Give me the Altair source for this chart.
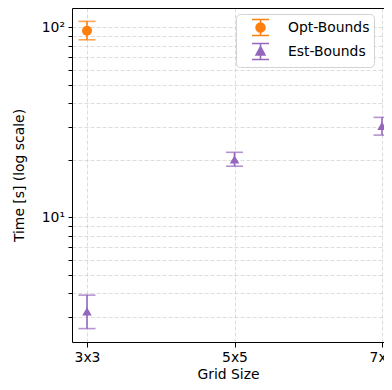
import json
import altair as alt
import pandas as pd

# ---- data ----
grids = ["3x3", "5x5", "7x7"]
methods = ["Opt-Bounds", "Est-Bounds"]
colors = ["#ff7f0e", "#9467bd"]

opt_grid = ["3x3"]
opt_time = [96.0]
opt_lo = [86.0]
opt_hi = [107.5]

est_grid = ["3x3", "5x5", "7x7"]
est_time = [3.2, 20.2, 30.3]
est_lo = [2.6, 18.6, 27.1]
est_hi = [3.9, 22.0, 33.6]

y_ticks = [3, 4, 5, 6, 7, 8, 9, 10, 20, 30, 40, 50, 60, 70, 80, 90, 100]
y_domain = [2.21, 126.4]
x_domain = [-0.1017, 2.0135]

# legend glyphs: marker + error bar (unit square -1..1)
opt_glyph = ("M-1,-0.94L1,-0.94M-1,0.94L1,0.94M0,-0.94L0,0.94"
             "M-0.52,0A0.52,0.52,0,1,0,0.52,0A0.52,0.52,0,1,0,-0.52,0Z")
est_glyph = ("M-1,-0.94L1,-0.94M-1,0.94L1,0.94M0,-0.94L0,0.94"
             "M0,-0.56L0.52,0.42L-0.52,0.42Z")

rows = []
for g, t, lo, hi in zip(opt_grid, opt_time, opt_lo, opt_hi):
    rows.append(dict(grid=g, idx=grids.index(g), method=methods[0], time=t, lo=lo, hi=hi))
for g, t, lo, hi in zip(est_grid, est_time, est_lo, est_hi):
    rows.append(dict(grid=g, idx=grids.index(g), method=methods[1], time=t, lo=lo, hi=hi))
df = pd.DataFrame(rows)

FONT = "DejaVu Sans"
FS = 13.9
GRID = dict(grid=True, gridDash=[4, 2], gridColor="#b0b0b0", gridOpacity=0.55, gridWidth=0.8)

xscale = alt.Scale(domain=x_domain, nice=False, zero=False, padding=0)
yscale = alt.Scale(type="log", domain=y_domain, nice=False, padding=0)

x_label_expr = json.dumps(grids) + "[datum.value]"
x_axis = alt.Axis(values=list(range(len(grids))), labelExpr=x_label_expr, title="Grid Size",
                  labelFont=FONT, labelFontSize=FS, labelColor="black", labelPadding=3.5,
                  titleFont=FONT, titleFontSize=FS, titleFontWeight="normal", titleColor="black",
                  titlePadding=3, tickColor="black", tickSize=5, domainColor="black",
                  labelAngle=0, labelOverlap=False, **GRID)

y_axis = alt.Axis(values=y_ticks,
                  labelExpr="datum.value == 100 ? '10²' : datum.value == 10 ? '10¹' : ''",
                  tickSize=4,
                  title="Time [s] (log scale)",
                  labelFont=FONT, labelFontSize=FS, labelColor="black", labelPadding=3.5,
                  titleFont=FONT, titleFontSize=FS, titleFontWeight="normal", titleColor="black",
                  titlePadding=15, tickColor="black", domainColor="black", labelOverlap=False,
                  **GRID)

# colour scale for the drawn marks (domain listed in reverse so that its
# disabled legend is not merged with the visible legend below)
color = alt.Color("method:N",
                  scale=alt.Scale(domain=methods[::-1], range=colors[::-1]),
                  legend=None)

base = alt.Chart(df)

rule = base.mark_rule(strokeWidth=1.6).encode(
    x=alt.X("idx:Q", scale=xscale, axis=x_axis),
    y=alt.Y("lo:Q", scale=yscale, axis=y_axis),
    y2="hi:Q",
    color=color,
)

cap_lo = base.mark_tick(orient="horizontal", size=17, thickness=1.6).encode(
    x=alt.X("idx:Q", scale=xscale, axis=None),
    y=alt.Y("lo:Q", scale=yscale),
    color=color,
)
cap_hi = base.mark_tick(orient="horizontal", size=17, thickness=1.6).encode(
    x=alt.X("idx:Q", scale=xscale, axis=None),
    y=alt.Y("hi:Q", scale=yscale),
    color=color,
)

circ = base.transform_filter(alt.datum.method == methods[0]).mark_point(
    shape="circle", filled=True, size=100, opacity=1).encode(
    x=alt.X("idx:Q", scale=xscale, axis=None),
    y=alt.Y("time:Q", scale=yscale),
    color=color,
)
tri = base.transform_filter(alt.datum.method == methods[1]).mark_point(
    shape="triangle-up", filled=True, size=90, opacity=1).encode(
    x=alt.X("idx:Q", scale=xscale, axis=None),
    y=alt.Y("time:Q", scale=yscale),
    color=color,
)

leg = alt.Legend(title=None, orient="none", legendX=164, legendY=6)

# legend-only layer: its rows are filtered away, the legend comes from the scales
legend_layer = base.transform_filter("false").mark_point(size=289, opacity=1).encode(
    x=alt.X("idx:Q", scale=xscale,
            axis=alt.Axis(orient="top", labels=False, ticks=False, grid=False, title=None,
                          domainColor="black")),
    y=alt.Y("time:Q", scale=yscale),
    shape=alt.Shape("method:N", scale=alt.Scale(domain=methods, range=[opt_glyph, est_glyph]), legend=leg),
    fill=alt.Fill("method:N", scale=alt.Scale(domain=methods, range=colors), legend=leg),
    stroke=alt.Stroke("method:N", scale=alt.Scale(domain=methods, range=colors), legend=leg),
)

chart = alt.layer(rule, cap_lo, cap_hi, circ, tri, legend_layer).resolve_axis(
    x="independent"
).properties(
    width=312, height=334,
    padding={"left": 64, "top": 0, "right": 0, "bottom": 40},
    autosize=alt.AutoSizeParams(type="none"),
).configure_view(stroke=None).configure_legend(
    labelFont=FONT, labelFontSize=FS, labelColor="black",
    symbolSize=289, symbolStrokeWidth=1.6, symbolOffset=11, labelOffset=18,
    symbolOpacity=1, padding=4, rowPadding=1, strokeColor="#d3d3d3", fillColor="white",
    cornerRadius=4,
)

chart.save("out.html", embed_options={"renderer": "svg", "actions": False})
